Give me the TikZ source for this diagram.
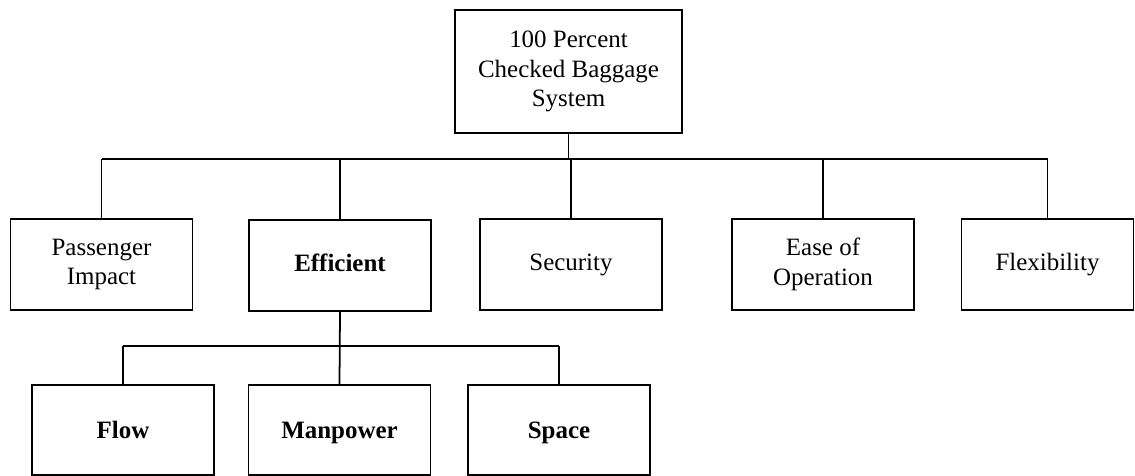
\documentclass[tikz,border=0pt]{standalone}
\usepackage{fontspec}
\setmainfont{Liberation Serif}
\usepackage{tikz}
\usetikzlibrary{positioning}

\begin{document}
\begin{tikzpicture}[
		x=0.02cm, y=-0.02cm,
		box/.style={draw,line width=1.1pt,inner sep=0pt,align=center,
			minimum width=3.64cm,minimum height=1.82cm,
			font=\fontsize{14.2}{16.8}\selectfont},
		oneline/.style={box,text height=10pt,text depth=3pt},
		subbox/.style={box,minimum height=1.8cm,text height=11pt,text depth=1.5pt,
			font=\fontsize{14.2}{16.8}\selectfont\bfseries},
		link/.style={line width=1pt}]
		\useasboundingbox (0,0) rectangle (1135,476);
		
		% Top of the tree
		\node[box,minimum width=4.54cm,minimum height=2.46cm] (sys) at (568.5,71.5)
		{100 Percent\\Checked Baggage\\System};
		
		% Second level
		\node[box] (pass) at (101.5,264.5) {Passenger\\Impact};
		\node[oneline,font=\fontsize{14.2}{16.8}\selectfont\bfseries] (eff) at (340,265.5) {Efficient};
		\node[oneline] (sec) at (571,264.5) {Security};
		\node[box] (ease) at (823,264.5) {Ease of\\Operation};
		\node[oneline,minimum width=3.44cm] (flex) at (1047.5,264.5) {Flexibility};
		
		% Third level
		\node[subbox] (flow) at (123,430) {Flow};
		\node[subbox] (man) at (339.5,430) {Manpower};
		\node[subbox] (space) at (559,430) {Space};
		
		\draw
		(0,159) coordinate (bus)
		(0,346) coordinate (subbus);
		
		% Draw connectors
		\draw[link] (sys.south) -- (sys.south |- bus);
		\draw[link] (bus -| pass) -- (bus -| flex);
		\draw[link] (bus -| pass) -- (pass.north);
		\draw[link] (bus -| eff) -- (eff.north);
		\draw[link] (bus -| sec) -- (sec.north);
		\draw[link] (bus -| ease) -- (ease.north);
		\draw[link] (bus -| flex) -- (flex.north);
		
		\draw[link] (eff.south) -- (man.north);
		\draw[link] (subbus -| flow) -- (subbus -| space);
		\draw[link] (subbus -| flow) -- (flow.north);
		\draw[link] (subbus -| space) -- (space.north);
		
\end{tikzpicture}
\end{document}
